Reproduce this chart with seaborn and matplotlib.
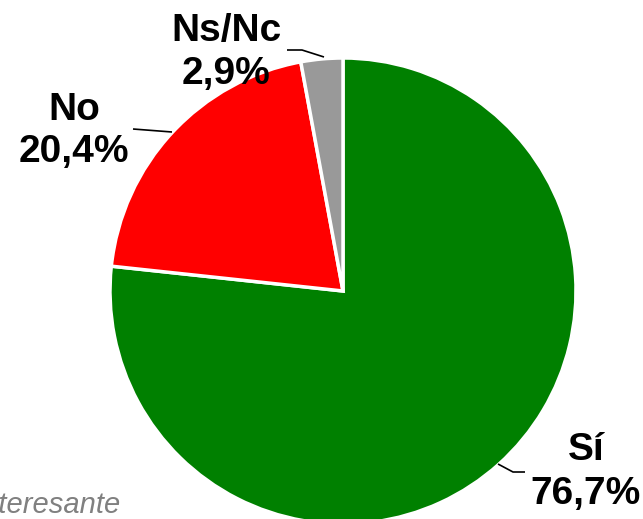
import matplotlib
matplotlib.use("Agg")
import matplotlib.pyplot as plt
import seaborn as sns

# data
labels = ["Sí", "No", "Ns/Nc"]
values = [76.7, 20.4, 2.9]
pct_labels = ["76,7%", "20,4%", "2,9%"]
colors = ["#008000", "#FF0000", "#999999"]

sns.set_theme(style="white")
plt.rcParams["font.family"] = ["Liberation Sans", "DejaVu Sans"]

W, H = 643, 519
fig = plt.figure(figsize=(W / 100, H / 100), dpi=100)
ax = fig.add_axes([0, 0, 1, 1])

ax.pie(values, colors=colors, startangle=90, counterclock=False,
       center=(343, H - 291), radius=233, frame=True,
       wedgeprops=dict(edgecolor="white", linewidth=2.5))
ax.set_xlim(0, W)
ax.set_ylim(0, H)
ax.set_aspect("equal")
ax.axis("off")

# label positions (image px) and leader lines
label_pos = [(586, 472), (74, 131), (226, 52)]
leaders = [
    [(498, 464), (513, 472), (525, 472)],
    [(133, 129), (172, 132)],
    [(287, 50), (302, 50), (324, 57)],
]
for lab, pct, (x, y), pts in zip(labels, pct_labels, label_pos, leaders):
    ax.text(x, H - y, f"{lab}\n{pct}", ha="center", va="center",
            fontsize=28, fontweight="bold", color="black", linespacing=1.25)
    ax.plot([p[0] for p in pts], [H - p[1] for p in pts],
            color="black", linewidth=1.2, solid_capstyle="butt")

ax.text(121, H - 513, "Interesante", ha="right", va="baseline",
        fontsize=21, style="italic", color="#808080")

fig.savefig("out.png", dpi=100)
